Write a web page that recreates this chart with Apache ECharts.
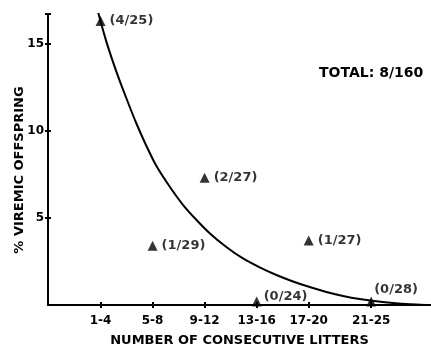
<!DOCTYPE html>
<html>
<head>
<meta charset="utf-8">
<script src="https://cdn.jsdelivr.net/npm/echarts@6/dist/echarts.min.js"></script>
<style>html,body{margin:0;padding:0;background:#fff}#c{width:431px;height:348px}</style>
</head>
<body>
<div id="c"></div>
<script>
const categories = ['1-4', '5-8', '9-12', '13-16', '17-20', '21-25'];
const xPositions = [0, 1, 2, 3, 4, 5.2];
const viremic = [16.3, 3.4, 7.3, 0.2, 3.7, 0.2];
const ratioLabels = ['(4/25)', '(1/29)', '(2/27)', '(0/24)', '(1/27)', '(0/28)'];
const curveX = [-0.052, 0.110, 0.302, 0.494, 0.687, 0.879, 1.071, 1.327, 1.583, 1.840, 2.096, 2.417, 2.737, 3.058, 3.379, 3.698, 4.019, 4.340, 4.660, 4.981, 5.302, 5.621, 5.942, 6.263, 6.4];
const curveY = [16.86, 15.13, 13.41, 11.88, 10.43, 9.14, 7.99, 6.80, 5.75, 4.89, 4.12, 3.33, 2.67, 2.16, 1.72, 1.35, 1.03, 0.75, 0.52, 0.34, 0.21, 0.11, 0.04, 0.0, 0.0];
const yTicks = [5, 10, 15];
const totalText = 'TOTAL: 8/160';
const xName = 'NUMBER OF CONSECUTIVE LITTERS';
const yName = '% VIREMIC OFFSPRING';

// layout-only settings (label nudges for the points sitting on the axis)
const labelOffsets = [[0, 0], [0, 0], [0, 0], [-2, -5], [0, 0], [-6, -12]];

const FONT = 'DejaVu Sans';
const INK = '#000';
const X_MIN = -1.01, X_MAX = 6.35, Y_MIN = 0, Y_MAX = 16.7;

const chart = echarts.init(document.getElementById('c'), null, {renderer: 'canvas'});
const pointData = xPositions.map((x, i) => ({
  value: [x, viremic[i]],
  label: {formatter: ratioLabels[i], offset: labelOffsets[i]}
}));
const curveData = curveX.map((x, i) => [x, curveY[i]]);
const tickFmt = v => {
  const i = xPositions.findIndex(p => Math.abs(p - v) < 1e-6);
  return i >= 0 ? categories[i] : '';
};
const axisLine = {show: true, onZero: false, lineStyle: {color: INK, width: 2}};

chart.setOption({
  animation: false,
  backgroundColor: '#fff',
  grid: {left: 48, right: 0, top: 14, bottom: 43, containLabel: false, outerBoundsMode: 'none'},
  xAxis: [{
    type: 'value', min: X_MIN, max: X_MAX,
    axisLine: axisLine,
    splitLine: {show: false},
    axisTick: {show: true, inside: false, length: 3, customValues: xPositions, lineStyle: {color: INK, width: 2}},
    axisLabel: {show: true, customValues: xPositions, formatter: tickFmt, margin: 10,
      fontFamily: FONT, fontWeight: 'bold', fontSize: 12, color: INK},
    name: xName, nameLocation: 'middle', nameGap: 29,
    nameTextStyle: {fontFamily: FONT, fontWeight: 'bold', fontSize: 13, color: INK}
  }, {
    type: 'value', min: X_MIN, max: X_MAX, position: 'bottom',
    axisLine: {show: false, onZero: false}, splitLine: {show: false},
    axisTick: {show: true, inside: true, length: 3, customValues: xPositions, lineStyle: {color: INK, width: 2}},
    axisLabel: {show: false}
  }],
  yAxis: [{
    type: 'value', min: Y_MIN, max: Y_MAX,
    axisLine: axisLine,
    splitLine: {show: false},
    axisTick: {show: true, inside: false, length: 3, customValues: yTicks.concat([Y_MAX]), lineStyle: {color: INK, width: 2}},
    axisLabel: {show: true, customValues: yTicks, margin: 4,
      fontFamily: FONT, fontWeight: 'bold', fontSize: 12, color: INK}
  }, {
    type: 'value', min: Y_MIN, max: Y_MAX, position: 'left',
    axisLine: {show: false, onZero: false}, splitLine: {show: false},
    axisTick: {show: true, inside: true, length: 3, customValues: yTicks.concat([Y_MAX]), lineStyle: {color: INK, width: 2}},
    axisLabel: {show: false}
  }],
  graphic: [{
    type: 'text', left: 319, top: 66,
    style: {text: totalText, fontFamily: FONT, fontWeight: 'bold', fontSize: 14, fill: INK}
  }, {
    type: 'text', x: 20, y: 170, rotation: Math.PI / 2,
    style: {text: yName, fontFamily: FONT, fontWeight: 'bold', fontSize: 13, fill: INK,
      align: 'center', verticalAlign: 'middle'}
  }],
  series: [{
    type: 'line', data: curveData, smooth: 0.3, symbol: 'none', clip: true,
    lineStyle: {color: INK, width: 2}, z: 2
  }, {
    type: 'scatter', data: pointData, symbol: 'triangle', symbolSize: 10,
    itemStyle: {color: INK}, z: 3,
    label: {show: true, position: 'right', distance: 4,
      fontFamily: FONT, fontWeight: 'bold', fontSize: 13, color: INK}
  }]
});
</script>
</body>
</html>
